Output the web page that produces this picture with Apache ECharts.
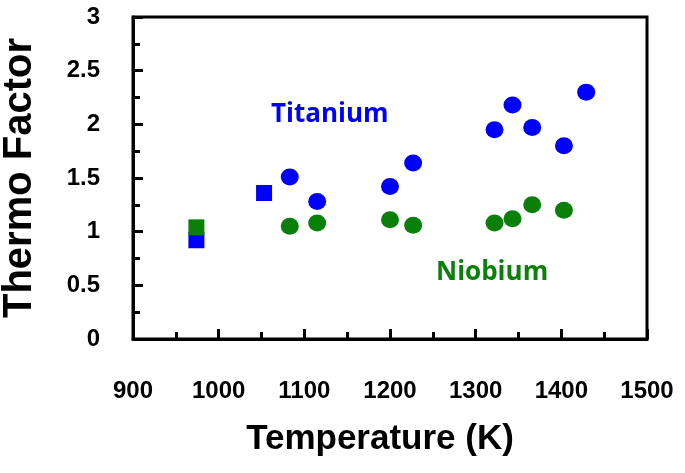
<!DOCTYPE html>
<html>
<head>
<meta charset="utf-8">
<script src="https://cdn.jsdelivr.net/npm/echarts@6/dist/echarts.min.js"></script>
<style>
html,body{margin:0;padding:0;background:#fff;}
#chart{width:685px;height:473px;}
</style>
</head>
<body>
<div id="chart"></div>
<script>
// Data
const titaniumCircleT = [1083, 1115, 1200, 1227, 1322, 1343, 1366, 1403, 1429];
const titaniumCircleF = [1.51, 1.28, 1.42, 1.64, 1.95, 2.18, 1.97, 1.80, 2.30];
const titaniumSquareT = [974, 1053];
const titaniumSquareF = [0.92, 1.36];
const niobiumCircleT = [1083, 1115, 1200, 1227, 1322, 1343, 1366, 1403];
const niobiumCircleF = [1.05, 1.08, 1.11, 1.06, 1.08, 1.12, 1.25, 1.20];
const niobiumSquareT = [974];
const niobiumSquareF = [1.04];
const xTicks = [900, 1000, 1100, 1200, 1300, 1400, 1500];
const yTicks = [0, 0.5, 1, 1.5, 2, 2.5, 3];

const zip = (a, b) => a.map((v, i) => [v, b[i]]);
const BLUE = '#0000ff', GREEN = '#0a800a';
const axisFont = '"Liberation Sans", Arial, sans-serif';

const chart = echarts.init(document.getElementById('chart'), null, {renderer: 'canvas'});
chart.setOption({
  animation: false,
  backgroundColor: '#fff',
  grid: {left: 133, right: 38, top: 17, bottom: 134, containLabel: false, outerBoundsMode: 'none',
         show: true, borderColor: '#000', borderWidth: 3, backgroundColor: 'transparent'},
  xAxis: {
    type: 'value', min: xTicks[0], max: xTicks[xTicks.length - 1], interval: 100,
    name: 'Temperature (K)', nameLocation: 'middle', nameGap: 83,
    nameTextStyle: {fontFamily: axisFont, fontWeight: 'bold', fontSize: 35, color: '#000', padding: [0, 20, 0, 0]},
    axisLine: {show: true, lineStyle: {color: '#000', width: 3}},
    axisTick: {show: true, inside: true, length: 10, lineStyle: {color: '#000', width: 3}},
    minorTick: {show: true, splitNumber: 2, length: 7, lineStyle: {color: '#000', width: 3}},
    axisLabel: {margin: 40, fontFamily: axisFont, fontWeight: 'bold', fontSize: 24, color: '#000',
                formatter: v => String(v)},
    splitLine: {show: false}
  },
  yAxis: {
    type: 'value', min: yTicks[0], max: yTicks[yTicks.length - 1], interval: 0.5,
    name: 'Thermo Factor', nameLocation: 'middle', nameGap: 93,
    nameTextStyle: {fontFamily: axisFont, fontWeight: 'bold', fontSize: 40, color: '#000'},
    axisLine: {show: true, lineStyle: {color: '#000', width: 3}},
    axisTick: {show: true, inside: true, length: 10, lineStyle: {color: '#000', width: 3}},
    minorTick: {show: true, splitNumber: 2, length: 7, lineStyle: {color: '#000', width: 3}},
    axisLabel: {margin: 33, fontFamily: axisFont, fontWeight: 'bold', fontSize: 24, color: '#000'},
    splitLine: {show: false}
  },
  series: [
    {name: 'Titanium', type: 'scatter', symbol: 'circle', symbolSize: [18, 17], itemStyle: {color: BLUE, opacity: 1}, data: zip(titaniumCircleT, titaniumCircleF)},
    {name: 'Titanium sq', type: 'scatter', symbol: 'rect', symbolSize: 16, itemStyle: {color: BLUE, opacity: 1}, data: zip(titaniumSquareT, titaniumSquareF)},
    {name: 'Niobium', type: 'scatter', symbol: 'circle', symbolSize: [18, 17], itemStyle: {color: GREEN, opacity: 1}, data: zip(niobiumCircleT, niobiumCircleF)},
    {name: 'Niobium sq', type: 'scatter', symbol: 'rect', symbolSize: 16, itemStyle: {color: GREEN, opacity: 1}, data: zip(niobiumSquareT, niobiumSquareF)}
  ],
  graphic: [
    {type: 'text', left: 271, top: 102, style: {text: 'Titanium', fill: BLUE, font: 'bold 26px "Open Sans", sans-serif'}},
    {type: 'text', left: 436, top: 260, style: {text: 'Niobium', fill: GREEN, font: 'bold 26px "Open Sans", sans-serif'}}
  ]
});
</script>
</body>
</html>
